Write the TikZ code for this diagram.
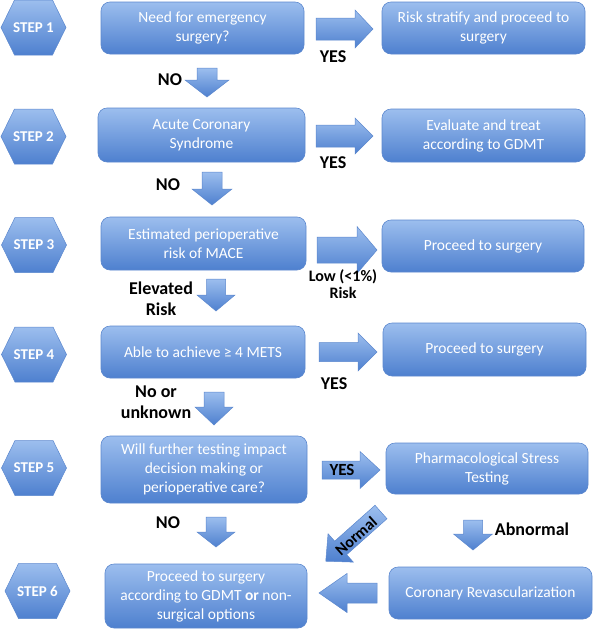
\documentclass[tikz,border=0pt]{standalone}
\usepackage{fontspec}
\setmainfont{Carlito}
\definecolor{boxtop}{RGB}{156,190,238}
\definecolor{boxbot}{RGB}{78,128,207}
\definecolor{bordc}{RGB}{92,136,206}
\newcommand\boxfont{\fontsize{15.5}{19}\selectfont}
\newcommand\lblfont{\fontsize{18}{21}\selectfont\bfseries}
\newcommand\smlfont{\fontsize{16}{17}\selectfont\bfseries}
\newcommand\stepfont{\fontsize{15}{18}\selectfont\bfseries}
\tikzset{
  box/.style={rectangle, rounded corners=9pt, draw=bordc, line width=0.6pt,
    top color=boxtop, bottom color=boxbot, text=white, align=center,
    font=\boxfont, inner sep=0pt},
  lbl/.style={font=\lblfont, text=black, align=center, inner sep=0pt},
  sml/.style={font=\smlfont, text=black, align=center, inner sep=0pt},
  barrow/.style={draw=bordc, line width=0.5pt, top color=boxtop, bottom color=boxbot},
  hexsty/.style={draw=bordc, line width=0.5pt, top color=boxtop, bottom color=boxbot},
  steplbl/.style={text=white, font=\stepfont, inner sep=0pt}
}
% tail x, tail y, angle, length, shaft half width, head half width, head length
\newcommand\blkarrow[7]{%
  \begin{scope}[shift={(#1,#2)}, rotate=#3]
    \path[barrow] (0,-#5) -- ({#4-#7},-#5) -- ({#4-#7},-#6) -- (#4,0)
      -- ({#4-#7},#6) -- ({#4-#7},#5) -- (0,#5) -- cycle;
  \end{scope}}
% name, cx, cy, label
\newcommand\hexstep[4]{%
  \path[hexsty] ({#2-32.5},#3) -- ({#2-19},{#3-27.5}) -- ({#2+19},{#3-27.5})
    -- ({#2+32.5},#3) -- ({#2+19},{#3+27.5}) -- ({#2-19},{#3+27.5}) -- cycle;
  \node[steplbl] (#1) at (#2,#3) {#4};}
\begin{document}
\begin{tikzpicture}[x=1pt,y=-1pt]
\useasboundingbox (0,0) rectangle (598,630);
% step hexagons
\hexstep{h1}{33.5}{27.5}{STEP 1}
\hexstep{h2}{33.5}{136.5}{STEP 2}
\hexstep{h3}{34}{245}{STEP 3}
\hexstep{h4}{34}{354.5}{STEP 4}
\hexstep{h5}{34}{468}{STEP 5}
\hexstep{h6}{37.5}{591}{STEP 6}
% boxes
\node[box, minimum width=203pt, minimum height=52pt] (l1) at (202.5,28) {Need for emergency\\surgery?};
\node[box, minimum width=203pt, minimum height=52pt] (r1) at (483.5,28) {Risk stratify and proceed to\\surgery};
\node[box, minimum width=207pt, minimum height=54pt] (l2) at (201.5,135) {Acute Coronary\\Syndrome};
\node[box, minimum width=203pt, minimum height=53pt] (r2) at (483.5,135.5) {Evaluate and treat\\according to GDMT};
\node[box, minimum width=205pt, minimum height=53pt] (l3) at (203.5,243.5) {Estimated perioperative\\risk of MACE};
\node[box, minimum width=202pt, minimum height=52pt] (r3) at (483,246) {Proceed to surgery};
\node[box, minimum width=204pt, minimum height=52pt] (l4) at (203,352) {Able to achieve ≥ 4 METS};
\node[box, minimum width=203pt, minimum height=53pt] (r4) at (484.5,349.5) {Proceed to surgery};
\node[box, minimum width=206pt, minimum height=67pt] (l5) at (204,469.5) {Will further testing impact\\decision making or\\perioperative care?};
\node[box, minimum width=202pt, minimum height=51pt] (r5) at (487,468.5) {Pharmacological Stress\\Testing};
\node[box, minimum width=202pt, minimum height=64pt] (l6) at (206,596) {Proceed to surgery\\according to GDMT \textbf{or} non-\\surgical options};
\node[box, minimum width=203pt, minimum height=52pt] (r6) at (490.5,593) {Coronary Revascularization};
% right arrows
\blkarrow{316}{29}{0}{57}{11}{19}{18}
\blkarrow{316}{136}{0}{57}{11}{18}{18}
\blkarrow{317}{250}{0}{60}{13}{23.5}{20}
\blkarrow{319}{352}{0}{58}{9.5}{19}{19}
\blkarrow{322}{470}{0}{58}{9}{18.5}{20}
% down arrows
\blkarrow{207}{68}{-90}{29}{10}{22}{17}
\blkarrow{212}{172}{-90}{33}{10}{20}{16}
\blkarrow{216}{279}{-90}{32}{9.5}{19}{16}
\blkarrow{214}{392}{-90}{33}{10}{19}{18}
\blkarrow{216}{517}{-90}{30}{10}{19}{15}
\blkarrow{473}{520}{-90}{30}{9.5}{19.5}{16}
% left arrow and diagonal arrow
\blkarrow{377}{593}{180}{58}{10}{19.5}{28}
\blkarrow{381}{512}{221.7}{74}{9}{19}{20}
% labels
\node[lbl] (no1) at (170,80) {NO};
\node[lbl] (yes1) at (333,57) {YES};
\node[lbl] (no2) at (168,185) {NO};
\node[lbl] (yes2) at (333,163) {YES};
\node[sml] (low) at (343,284.5) {Low (<1\%)\\Risk};
\node[lbl] (elev) at (161,298.5) {Elevated\\Risk};
\node[lbl] (yes4) at (334,384) {YES};
\node[lbl] (noor) at (156,402.5) {No or\\unknown};
\node[font=\fontsize{17}{20}\selectfont\bfseries, inner sep=0pt] (yes5) at (342,470) {YES};
\node[lbl] (no5) at (168,523) {NO};
\node[lbl] (abn) at (532,529) {Abnormal};
\node[font=\fontsize{16}{19}\selectfont\bfseries, inner sep=0pt, rotate=41.7] (norm) at (356,536) {Normal};
\end{tikzpicture}
\end{document}
